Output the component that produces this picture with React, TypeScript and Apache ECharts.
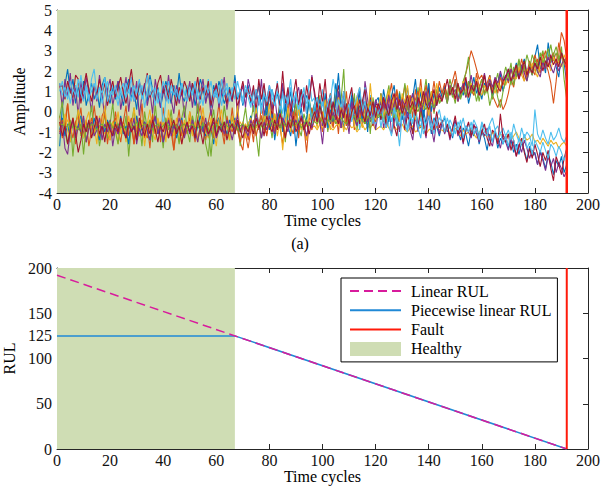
import React, { useEffect, useRef } from 'react';
import * as echarts from 'echarts';

// ---------- Panel (a): normalised sensor signals, one value per time cycle (t = 1..192) ----------
const blueA = [
  -1.7,0.2,1.3,2.1,0.9,1.6,0.4,1.2,0.7,1.5,0.3,0.9,1.4,0.6,1.1,0.2,1.3,1.7,0.8,0.4,1.2,0.6,1.5,0.9,
  0.3,1.1,1.6,0.7,1.0,0.1,1.4,0.8,1.3,0.5,1.8,1.1,0.6,1.2,0.2,0.9,1.5,1.0,0.4,1.3,0.7,1.9,0.8,0.5,
  1.2,0.6,1.4,0.3,0.9,1.6,1.1,0.5,1.0,0.2,1.3,0.7,1.5,1.0,0.4,0.8,1.2,0.5,1.8,0.6,1.1,0.3,0.9,1.3,
  0.4,1.0,0.6,1.3,0.2,0.8,-0.2,0.7,1.1,0.5,0.9,0.1,1.2,0.6,0.3,1.0,-0.3,0.7,0.4,1.1,0.2,0.8,0.5,-0.1,
  0.4,0.7,-0.1,0.5,-0.4,0.3,0.9,0.0,1.4,0.2,-0.3,0.6,0.1,-0.6,0.4,0.7,-0.2,0.3,-0.5,0.5,0.0,0.8,0.2,-0.3,
  0.1,-0.4,0.3,-0.8,-0.1,-0.5,0.2,-0.7,-0.2,0.5,-0.6,0.0,-0.3,-1.0,-0.1,-0.5,-0.8,0.1,-0.6,-0.2,-1.1,-0.3,-0.7,-1.2,
  -0.6,-0.3,-1.0,-0.7,-1.3,-0.5,-0.9,-1.4,-0.8,-1.1,-1.7,-0.9,-1.2,-0.7,-1.6,-1.0,-1.3,-1.9,-1.1,-1.5,-1.0,-1.8,-1.3,-1.6,
  -1.2,-1.8,-1.4,-2.0,-1.6,-2.1,-1.5,-1.9,-2.4,-1.7,-2.2,-2.0,-2.6,-1.9,-2.3,-2.8,-2.1,-2.5,-3.1,-2.4,-2.7,-2.2,-3.0,-2.6,
];
const orangeA = [
  -0.2,-1.3,-0.5,0.4,-1.1,-0.3,-1.6,-0.6,0.2,-1.2,-0.4,-1.7,-0.9,0.3,-0.8,-1.4,-0.2,0.1,-1.6,-0.6,-1.1,0.0,-0.9,-1.5,
  -0.5,0.3,-1.2,-0.7,-1.6,-0.2,-1.0,0.4,-1.3,-0.6,-1.8,-0.1,-1.1,-0.4,-1.5,0.2,-0.7,-1.3,-0.3,-1.9,-0.8,0.1,-1.2,-0.5,
  -1.1,0.0,-0.7,-1.5,-0.3,0.3,-0.9,-1.4,-0.5,0.1,-1.2,-0.6,0.4,-0.8,-1.6,-0.2,-1.0,0.2,-1.1,-0.5,-1.5,-1.9,-0.6,-1.4,
  -0.6,-1.5,0.0,-0.9,0.3,-0.5,-1.2,-0.2,0.5,-1.0,-0.1,-0.8,-1.6,-0.3,0.4,-0.7,-1.1,0.1,-1.3,-0.2,-0.9,-1.4,-0.4,0.2,
  -0.5,0.6,-0.3,-1.0,0.4,-0.4,0.9,-0.7,0.1,-1.1,0.5,-0.2,1.0,-0.6,0.3,-0.9,0.6,1.2,-0.3,0.1,-0.8,0.7,-0.2,0.4,
  -0.2,0.9,0.3,-0.6,0.7,1.4,0.2,1.0,-0.4,0.5,1.3,0.1,0.8,-0.3,1.1,0.4,1.6,0.2,0.9,-0.1,0.6,1.5,0.5,1.1,
  0.8,1.3,0.7,1.1,1.5,2.0,1.2,0.9,1.4,1.9,2.4,3.0,2.6,2.1,1.6,1.8,1.3,1.0,1.5,0.8,0.5,0.2,0.6,0.1,
  0.4,0.9,1.6,1.2,2.0,1.7,2.3,1.5,1.9,2.5,2.1,1.8,2.6,2.2,2.9,2.4,2.0,1.4,0.4,1.5,2.8,3.9,3.5,2.6,
];
const yellowA = [
  -0.6,-0.8,-0.7,-0.4,-0.8,-0.6,-0.9,-0.7,-1.0,-0.6,-0.8,-0.5,-0.7,-0.9,-0.6,-0.8,-0.7,-1.1,-0.6,-0.8,-0.5,-0.7,-1.6,-0.8,
  -0.6,-0.9,-0.7,-0.5,-0.8,-1.0,-0.6,-0.7,-0.9,-0.6,-0.4,-0.8,-0.7,-1.0,-0.6,-0.8,-0.5,-0.9,-0.7,-0.6,-0.8,-1.5,-0.7,-0.6,
  -0.8,-0.5,-0.7,-0.9,-0.6,-0.8,-0.7,-1.0,-0.6,-0.5,-0.8,-0.7,-0.9,-0.6,-0.8,-1.2,-0.7,-0.6,-0.9,-0.7,-0.5,-0.8,-0.6,-0.9,
  -0.7,-0.6,-0.8,-0.5,-0.7,-0.9,-0.6,-0.8,-0.7,-0.5,-0.8,-0.6,-0.9,-0.7,-0.6,-0.8,-0.5,-0.7,-0.9,-0.6,-0.8,-0.7,-0.6,-0.8,
  -0.7,-0.9,-0.6,-0.8,-0.7,-0.5,-0.8,-0.9,-0.7,-0.6,-0.8,-0.7,-0.9,-0.6,-0.8,-0.7,-1.0,-0.8,-0.6,-0.9,-0.7,-0.8,-0.6,-0.9,
  -0.8,-0.7,-0.9,-0.6,-0.8,-1.0,-0.7,-0.9,-0.8,-0.6,-0.9,-1.0,-0.8,-0.7,-1.0,-0.9,-0.7,-0.8,-1.1,-0.9,-0.8,-1.0,-0.7,-0.9,
  -0.9,-1.0,-0.8,-1.1,-0.9,-0.8,-1.0,-1.2,-0.9,-1.1,-1.0,-0.8,-1.1,-1.3,-1.0,-0.9,-1.2,-1.1,-1.3,-1.0,-1.2,-1.4,-1.1,-1.2,
  -1.3,-1.1,-1.4,-1.2,-1.0,-1.3,-1.5,-1.2,-1.4,-1.3,-1.1,-1.5,-1.4,-1.6,-1.3,-1.5,-1.7,-1.4,-1.6,-1.5,-1.8,-1.6,-1.5,-1.7,
];
const purpleA = [
  1.4,0.2,1.6,0.7,1.9,0.3,1.2,-0.2,1.5,0.6,1.7,0.9,0.0,1.3,0.5,1.8,0.8,-0.3,1.1,1.6,0.3,1.0,1.5,0.1,
  0.9,1.7,0.0,1.2,0.5,1.5,-0.2,0.8,1.4,0.3,1.0,-0.1,1.6,0.8,0.2,1.3,0.5,1.8,0.6,-0.1,1.3,0.4,1.1,-0.3,
  0.7,1.5,0.2,1.2,-0.1,0.9,1.6,0.4,1.1,-0.2,0.6,1.4,0.2,0.9,1.7,0.1,1.0,0.5,1.5,-0.3,0.8,1.3,0.2,1.6,
  1.0,0.0,1.1,0.3,1.6,-0.2,0.6,1.3,0.1,0.8,-0.4,0.5,1.4,0.0,1.0,0.3,-0.5,0.8,1.2,0.2,0.9,-0.1,0.5,1.8,
  0.8,-0.3,0.5,-0.7,0.3,-0.9,0.7,0.0,-0.5,1.0,-0.8,0.4,-0.2,-1.1,0.6,-0.4,0.3,1.1,-0.6,1.5,0.6,-0.5,0.4,-0.9,
  0.0,0.5,-0.8,-0.2,0.4,-1.1,-0.5,0.3,-1.0,-0.1,-0.7,0.6,-0.9,-1.4,-0.2,-1.0,0.2,-0.6,-1.3,0.0,-0.8,-1.5,-0.4,-1.1,
  -0.5,-1.1,-0.7,-1.4,-0.8,-0.4,-1.2,-0.9,-1.6,-0.7,-1.0,-1.3,-0.6,-1.1,-1.5,-0.9,-1.2,-0.8,-1.4,-1.7,-1.0,-1.3,-1.8,-1.1,
  -1.5,-1.9,-1.3,-1.7,-2.2,-1.6,-2.0,-1.4,-1.8,-2.3,-1.9,-2.1,-2.6,-2.0,-2.4,-2.9,-2.2,-2.7,-2.3,-3.0,-2.5,-2.8,-3.2,-2.9,
];
const greenA = [
  -0.3,0.5,-1.0,-1.6,-0.4,-2.2,-0.7,0.1,-1.2,-0.3,-1.5,-0.6,0.3,-1.1,-0.5,-1.7,-0.9,-0.1,-1.3,-0.6,0.4,-1.0,-1.6,-0.4,
  -1.1,-0.2,-2.2,-0.7,0.2,-1.3,-0.5,-1.7,0.0,-0.9,-0.4,-1.5,0.4,-1.0,-0.6,-1.8,-0.3,-0.9,0.1,-1.2,-0.7,-1.6,-0.3,0.3,
  -0.9,-1.5,-0.2,-0.8,0.4,-1.1,-0.5,-1.6,-2.2,-0.6,0.1,-1.2,-0.3,-0.9,0.3,-0.7,-1.4,-0.2,-1.1,-0.5,-1.7,-0.6,0.2,-0.9,
  -0.5,0.3,-1.1,-2.2,-0.2,-0.8,0.5,-0.4,-1.3,-0.1,-0.8,0.6,-0.5,-1.5,0.1,-1.0,-0.3,0.4,-0.8,-1.2,-0.1,-0.6,0.7,-0.4,
  0.4,-0.6,0.8,-0.3,0.2,-1.0,0.5,-0.5,1.1,-0.2,0.6,2.1,-0.7,0.3,-0.4,0.9,-0.9,0.1,0.6,-0.6,0.4,-1.1,0.7,-0.1,
  -0.2,0.9,-0.5,0.6,1.3,0.0,0.8,-0.6,1.0,0.2,1.4,0.5,-0.4,0.9,0.1,1.2,-0.3,0.7,1.6,0.2,1.0,-0.1,1.1,0.4,
  0.6,1.2,0.8,1.6,1.0,0.4,1.3,0.7,1.5,1.9,2.7,1.1,0.8,1.4,0.5,1.2,1.8,0.9,1.5,0.6,1.3,1.9,1.1,1.6,
  2.2,1.7,2.4,1.3,2.0,2.6,1.8,2.3,1.5,2.1,2.8,2.4,1.9,2.6,3.0,2.2,2.7,3.3,2.5,2.9,2.4,3.2,1.6,0.6,
];
const lightBlueA = [
  1.4,0.8,1.2,0.6,1.5,1.0,1.3,0.7,1.8,0.9,1.1,0.5,1.6,2.1,0.8,1.2,0.4,1.0,1.5,0.7,1.3,0.9,0.3,1.1,
  0.6,1.4,0.9,1.7,0.5,1.1,0.8,1.3,0.2,1.0,1.6,0.7,1.2,0.4,0.9,-0.8,0.6,1.5,0.9,1.2,0.5,1.0,1.4,0.8,
  1.3,0.6,1.0,1.5,0.8,0.4,1.2,0.9,1.6,0.5,1.1,0.7,1.3,0.3,1.0,1.4,0.8,1.2,0.6,1.5,0.9,0.4,1.1,0.7,
  0.2,1.2,-0.6,0.8,-0.1,1.3,0.5,-0.4,1.1,0.3,1.5,0.0,0.9,-0.3,0.7,1.6,0.2,1.0,-0.2,0.6,1.2,-0.1,1.6,0.5,
  0.7,-0.5,0.4,1.1,-0.2,-0.8,0.6,1.6,0.8,-0.1,-0.6,0.7,0.1,-0.7,1.0,-0.3,0.5,-0.9,0.4,1.2,-0.4,0.8,0.0,-0.6,
  0.3,-0.8,0.0,0.6,-0.7,-1.2,0.1,-0.5,-1.7,-0.2,0.4,-0.9,0.0,-0.6,0.5,-0.8,-1.3,-0.2,-0.9,0.4,-0.5,-1.1,-0.3,0.1,
  -0.6,-0.2,-0.9,-0.4,-0.7,-1.1,-0.5,-0.8,-0.3,-1.0,-0.6,-0.9,-0.4,-0.7,-1.2,-0.5,-0.8,-1.0,-0.6,-0.3,-0.9,-0.7,-1.1,-0.8,
  -1.2,-0.9,-1.4,-0.6,-1.1,-1.5,-0.8,-1.3,-1.0,-1.2,-1.7,0.1,-1.1,-1.4,-0.9,-1.3,-1.6,-1.0,-1.4,-1.2,-0.8,-1.3,-1.5,-1.2,
];
const darkRedA = [
  1.2,1.3,0.6,1.5,1.0,0.7,1.8,1.6,0.4,1.2,1.9,1.1,0.5,1.3,0.8,1.6,0.9,1.4,0.3,1.0,1.5,0.7,1.2,1.7,
  0.9,0.4,1.3,2.1,1.0,0.6,1.5,0.8,1.2,1.9,0.7,1.1,0.5,1.4,1.8,0.9,1.3,0.6,1.6,1.0,0.3,1.2,0.8,1.5,
  1.1,0.5,1.4,0.9,1.7,0.6,1.2,0.8,1.5,0.3,1.0,1.3,0.7,1.6,0.9,0.4,1.1,0.6,1.3,0.2,0.9,1.5,0.7,1.1,
  0.5,1.3,0.0,1.6,0.6,1.4,0.1,1.0,-0.3,0.7,1.4,0.3,2.0,0.4,1.2,-0.1,0.8,1.6,0.3,1.1,0.0,1.3,0.5,1.7,
  1.0,0.1,1.4,0.4,1.6,-0.1,0.8,-0.5,0.6,1.3,0.2,1.0,-0.5,0.6,1.2,-0.1,0.7,-0.6,0.5,1.1,-0.2,0.7,-0.7,0.4,
  0.3,-0.4,0.7,-0.8,0.0,0.6,-0.7,-1.2,-0.1,0.5,-0.9,-0.2,-0.5,-1.1,0.1,-0.8,0.3,-0.6,-1.2,1.4,-0.3,-0.9,0.0,-0.8,
  -0.4,-1.0,-0.6,-1.3,-0.8,-0.2,-1.1,-0.7,-1.5,-0.9,-0.5,-1.2,-0.7,-0.8,-1.4,-1.0,-0.6,-1.3,-1.7,-0.9,-1.1,-1.6,-0.1,-1.3,
  -1.5,-1.1,-1.9,-1.4,-2.2,-1.7,-1.3,-2.0,-2.5,-1.8,-2.3,-1.6,-2.1,-2.7,-2.0,-2.4,-1.9,-2.8,-3.4,-2.2,-2.6,-3.1,-2.3,-1.8,
];
const blueB = [
  -0.9,-0.3,-1.2,-0.6,-1.5,-0.4,-1.0,-0.7,-0.2,-1.3,-0.8,-0.5,-1.1,-0.3,-0.9,-1.4,-0.6,-1.0,-0.4,-0.8,-1.2,-0.5,-0.9,-0.2,
  -1.1,-0.7,-1.6,-0.4,-0.9,-0.2,-1.2,-0.8,-0.5,-1.0,-1.4,-0.6,-0.3,-1.1,-0.7,-1.5,-0.9,-0.4,-1.0,-0.6,-1.3,-0.8,-0.3,-1.1,
  -0.6,-1.0,-0.4,-1.3,-0.7,-0.2,-0.9,-1.2,-0.5,-0.8,-1.6,-0.6,-0.3,-1.0,-0.7,-1.1,-0.4,-0.8,-0.3,-0.6,-1.0,-0.5,-1.2,-0.7,
  -0.2,-1.1,0.2,-0.7,-1.3,-0.3,0.3,-0.9,-0.1,-1.4,-0.4,0.1,-1.0,0.4,-0.7,-1.2,-0.2,-1.7,-0.5,0.2,-0.9,-0.3,0.5,-0.7,
  0.3,-0.7,0.6,-0.4,0.9,-0.8,0.1,-0.5,0.5,1.9,0.2,-0.9,0.4,-0.4,0.8,-0.7,0.0,1.0,-0.5,0.3,-1.0,0.6,-0.2,0.5,
  0.7,-0.2,1.1,0.3,-0.5,0.8,1.3,0.0,0.9,-0.4,0.5,1.2,-0.1,0.7,1.6,0.2,1.0,-0.3,0.6,1.4,0.0,0.9,0.3,1.2,
  0.7,1.3,0.5,1.1,0.9,1.6,0.6,1.2,0.8,1.5,0.4,1.0,1.7,0.9,1.3,0.6,1.4,1.1,1.8,0.8,1.5,1.2,1.9,1.0,
  1.6,2.1,1.4,1.9,2.4,1.7,2.2,2.6,1.9,2.3,1.8,2.7,3.3,2.1,2.5,1.9,3.4,2.4,2.8,2.2,1.7,2.9,2.4,1.4,
];
const orangeB = [
  -1.0,-0.4,-0.9,0.4,-0.7,-1.3,-0.5,-0.2,-1.1,-0.6,-1.5,-0.8,-0.3,-1.0,-0.5,-1.2,-0.7,-0.1,-0.9,-1.4,-0.6,-0.3,-1.1,-0.8,
  -0.5,-1.2,-0.8,-0.3,-1.6,-0.7,-1.0,-0.4,-0.9,-1.3,-0.6,-0.2,-1.1,-0.8,-0.5,-1.4,-0.7,-0.3,-1.0,-1.9,-0.6,-0.9,-0.4,-1.2,
  -0.7,-0.3,-1.1,-0.6,-1.4,-0.8,-0.2,-1.0,-0.5,-0.9,-1.3,-0.4,-0.8,-0.6,-1.2,-0.3,-0.7,-1.0,-0.4,-0.9,-1.5,-0.6,-1.1,-1.8,
  -0.9,-0.4,-1.2,-0.6,-0.2,-0.8,-1.1,-0.5,-0.3,-1.0,-0.7,-0.1,-0.6,-1.2,-0.4,-0.8,0.0,-0.6,-1.0,-0.3,-0.7,-2.0,-0.5,-0.9,
  -0.3,0.2,-0.6,0.0,-0.4,0.5,-0.2,-0.8,0.1,-0.5,0.3,-0.1,-0.7,0.4,-0.3,0.0,0.6,-0.4,0.2,-0.6,0.1,0.5,-0.2,-0.5,
  0.3,-0.1,0.6,0.2,0.9,0.0,0.5,1.1,0.3,0.7,-0.2,0.4,0.8,0.1,0.6,1.0,0.2,0.5,1.3,0.4,0.9,0.0,0.6,1.5,
  0.9,1.4,0.6,1.1,0.8,1.6,0.5,1.0,1.3,0.7,1.5,1.1,0.8,1.9,1.2,1.6,0.9,1.4,1.8,1.1,1.5,0.9,1.7,1.3,
  1.8,1.4,2.1,1.6,2.3,1.9,2.6,2.0,1.7,2.4,2.1,2.8,2.3,1.9,2.6,3.0,2.2,2.5,2.9,2.3,3.4,2.7,2.4,2.1,
];
const yellowB = [
  -0.5,-1.2,-0.1,-0.9,-1.5,-0.3,-1.0,0.1,-0.6,-1.3,-0.4,0.0,-1.2,-0.7,-1.6,-0.2,-0.8,0.3,-1.0,-1.4,-0.5,-0.9,0.0,-1.1,
  -0.6,-1.5,-0.2,-1.0,0.2,-0.8,-1.2,-0.4,-1.7,-0.6,0.1,-1.0,-1.4,-0.3,-0.9,-0.5,-1.5,0.1,-0.7,-1.2,-0.3,-1.0,-1.6,-0.4,
  -0.9,0.0,-1.2,-0.5,-1.5,-0.6,0.2,-1.0,-1.3,-0.3,-0.9,-1.7,-0.4,0.1,-1.1,-0.6,-1.4,-0.2,-0.8,0.3,-1.0,-0.5,-1.3,-0.6,
  -0.3,-1.1,0.2,-0.7,-1.3,-0.2,-0.6,0.4,-0.9,-0.1,-1.2,-0.4,-1.9,-0.5,0.2,-1.0,-0.2,-0.8,0.3,-0.9,-0.4,-1.4,-0.1,-0.6,
  0.0,-0.8,0.4,-0.5,0.6,-0.4,-0.9,0.2,-0.6,0.7,-0.1,-1.0,0.4,-0.4,0.1,-0.7,0.8,-0.2,-0.8,0.3,-0.5,1.4,0.0,-0.4,
  0.2,0.8,-0.3,0.5,1.1,-0.2,0.8,0.3,-0.5,0.9,0.4,1.3,0.0,0.7,-0.4,0.5,1.2,0.1,0.8,-0.3,1.0,0.3,1.4,0.6,
  0.7,1.1,0.5,1.3,0.9,0.6,1.2,0.8,1.5,1.0,0.7,1.4,0.9,1.6,1.1,0.8,1.3,1.0,1.7,1.2,0.9,1.5,1.1,1.6,
  1.3,1.7,1.5,2.0,1.6,2.2,1.8,1.5,2.1,1.9,2.4,2.0,1.7,2.3,2.6,2.1,2.4,2.0,2.7,2.3,2.5,2.2,2.8,2.4,
];
const purpleB = [
  -1.1,-0.5,-1.8,-2.1,-0.9,-0.4,-1.3,-0.7,-1.0,-0.2,-1.5,-0.8,-0.5,-1.2,-0.9,-0.3,-1.4,-0.6,-1.0,-0.4,-1.7,-0.8,-1.1,-0.5,
  -0.9,-1.3,-0.6,-1.0,-0.3,-1.6,-0.8,-1.2,-0.5,-0.9,-1.4,-0.7,-0.2,-1.1,-0.6,-1.5,-0.9,-0.4,-1.2,-0.7,-1.0,-0.3,-0.8,-1.3,
  -0.6,-1.1,-0.4,-0.9,-1.5,-0.7,-1.0,-0.3,-1.2,-0.8,-0.5,-1.3,-0.9,-0.6,-1.1,-0.4,-0.8,-1.4,-0.7,-0.2,-1.0,-0.6,-0.9,-1.2,
  -0.4,-0.8,-0.1,-0.6,-1.3,-0.5,-0.9,-0.2,-0.7,-1.1,-0.4,-0.8,-0.3,-0.6,-1.0,0.0,-0.7,-0.4,-0.9,-0.2,-0.6,-1.2,-0.5,-0.8,
  -0.3,0.1,-0.5,-1.6,-0.2,0.4,-0.6,0.0,-0.4,0.3,-0.8,-0.1,0.2,-0.5,0.5,-0.3,-0.7,0.1,-0.2,0.4,-0.5,0.0,-0.3,0.6,
  0.2,-0.2,0.5,0.1,0.8,-0.1,0.4,0.7,0.0,0.6,0.3,-0.3,0.5,0.9,0.2,0.6,0.0,0.4,1.0,0.3,0.7,0.1,0.5,0.9,
  0.6,1.0,0.4,1.3,0.8,1.1,0.5,0.9,1.4,0.7,1.2,1.8,1.0,1.5,0.8,1.3,1.9,1.1,1.6,1.2,1.7,1.4,2.0,1.5,
  1.8,1.5,2.1,1.7,2.0,1.6,2.3,1.9,1.5,2.2,1.8,2.4,2.0,1.7,2.5,2.1,2.7,2.2,1.9,2.4,2.0,2.3,2.6,2.2,
];
const greenB = [
  -0.7,-0.6,-0.8,-0.7,-0.5,-0.8,-0.7,-0.9,-0.6,-2.1,-0.7,-0.8,-0.6,-0.7,-0.9,-0.7,-0.6,-0.8,-0.7,-0.5,-0.8,-0.7,-0.6,-0.8,
  -0.7,-0.9,-0.6,-0.8,-0.7,-0.5,-0.8,-0.7,-0.6,-0.8,-0.7,-0.9,-0.7,-0.6,-0.8,-0.7,-0.5,-0.7,-0.8,-0.6,-0.7,-0.9,-0.7,-0.6,
  -0.8,-0.7,-0.6,-0.8,-0.7,-0.9,-0.6,-0.7,-0.8,-2.2,-0.7,-0.6,-0.8,-0.7,-0.5,-0.7,-0.8,-0.6,-0.7,-0.9,-0.7,-0.6,-0.8,-0.7,
  -0.6,-0.8,-0.7,-0.5,-0.7,-0.8,-0.6,-0.7,-0.4,-0.7,-0.6,-0.8,-0.5,-0.7,-0.6,-0.4,-0.7,-0.6,-0.5,-0.8,-0.6,-0.4,-0.7,-0.5,
  -0.5,-0.6,-0.3,-0.5,-0.7,-0.4,-0.5,-0.2,-0.6,-0.4,-0.3,-0.5,-0.6,-0.3,-0.4,-0.2,-0.5,-0.3,-0.4,-0.6,-0.2,-0.4,-0.3,-0.1,
  -0.3,-0.1,-0.4,0.0,-0.2,0.1,-0.3,0.2,0.0,-0.2,0.3,0.1,-0.1,0.4,0.2,0.0,0.5,0.3,0.1,0.6,0.4,0.2,0.7,0.5,
  0.6,1.0,0.4,1.2,0.7,0.9,1.4,0.6,1.1,0.8,1.5,0.9,1.3,0.5,1.1,1.6,0.8,1.2,0.3,0.9,1.4,0.7,0.2,1.0,
  1.5,1.9,1.3,2.2,1.7,2.5,1.9,2.1,2.8,2.3,1.8,2.6,2.2,2.9,2.4,2.7,3.1,2.5,2.8,3.2,2.6,2.9,2.4,2.7,
];
const lightBlueB = [
  1.0,1.5,0.7,1.2,0.4,1.1,0.8,1.6,0.9,0.5,1.3,0.7,1.0,1.4,0.6,1.2,0.9,1.7,0.5,1.0,0.8,1.3,0.6,1.1,
  1.4,0.7,1.1,0.5,1.3,0.9,1.6,0.6,1.0,1.8,0.8,1.2,0.3,1.1,0.7,1.5,1.0,0.4,1.3,0.8,1.1,0.6,1.4,0.9,
  0.5,1.2,0.8,1.4,0.6,1.0,0.3,1.3,0.9,1.5,0.7,1.1,0.4,1.6,0.8,1.2,0.5,1.0,1.4,0.7,1.1,0.6,1.3,0.9,
  0.8,0.4,1.1,0.6,0.2,0.9,0.5,1.3,0.7,0.3,1.0,0.6,-0.1,0.8,0.4,1.2,0.5,0.9,0.1,0.7,1.1,0.4,0.6,-0.6,
  0.3,0.7,0.0,0.5,-0.3,0.4,0.8,0.1,-0.2,0.6,0.2,1.0,-0.1,0.4,-0.5,0.3,0.7,1.2,0.0,0.5,-0.2,0.3,-0.6,0.2,
  -0.1,0.3,-0.4,-0.8,0.0,-0.5,0.2,-0.3,-0.7,0.1,-0.6,-1.0,-0.2,-0.5,0.0,-0.8,-0.3,-1.1,-0.6,-0.2,-0.9,-0.4,-0.7,-0.3,
  -0.5,-1.0,-0.3,-0.8,-1.2,-0.6,-0.9,-0.4,-1.3,-0.7,-1.0,-0.5,-1.1,-0.8,-1.4,-0.6,-1.0,-1.2,-0.7,-1.5,-0.9,-1.3,-1.0,-1.6,
  -1.2,-1.7,-1.0,-1.4,-1.9,-1.3,-1.6,-1.1,-1.8,-1.5,-2.1,-1.4,-1.7,-2.0,-1.5,-1.9,-2.3,-1.6,-1.8,-2.2,-1.7,-2.0,-2.4,-1.9,
];
const darkRedB = [
  -0.5,-1.2,-0.7,-1.6,-0.9,-0.3,-1.1,-2.0,-1.4,-0.6,-1.0,-0.4,-1.3,-0.8,-0.2,-1.1,-0.7,-1.5,-0.5,-0.9,-1.2,-0.6,-1.0,-0.3,
  -0.9,-1.3,-0.5,-1.0,-0.7,-1.4,-0.3,-0.8,-1.2,-0.6,-1.1,-0.4,-0.9,-1.5,-0.7,-1.0,-0.5,-1.3,-0.8,-0.4,-1.1,-0.7,-1.6,-0.9,
  -0.5,-1.0,-0.7,-1.3,-0.4,-0.9,-1.6,-0.6,-1.1,-0.8,-0.3,-1.2,-0.7,-1.0,-0.5,-1.4,-0.8,-0.6,-1.1,-0.4,-0.9,-1.3,-0.7,-1.0,
  -0.6,-1.1,-0.3,-0.8,-0.5,-1.2,-0.2,-0.7,-1.0,-0.4,-0.9,-0.1,-0.6,-1.3,-0.5,-0.8,-0.2,-1.0,-0.6,-0.3,-0.9,-0.5,-1.1,-0.4,
  0.0,-0.5,0.3,-0.3,-0.8,0.2,-0.4,0.5,-0.2,-0.6,0.1,-0.3,0.4,-0.7,0.0,0.3,-0.4,0.6,-0.1,-0.5,0.2,-0.2,0.5,-0.3,
  0.4,0.0,0.7,0.2,-0.2,0.5,0.9,0.1,0.6,-0.1,0.3,0.8,0.2,0.5,-0.2,0.7,0.3,1.0,0.4,0.1,0.6,1.1,0.3,0.8,
  0.5,1.0,1.6,0.8,1.2,0.6,1.4,0.9,1.1,1.7,0.7,1.3,1.0,1.5,0.8,1.2,1.8,1.0,1.4,0.9,1.6,1.2,1.0,1.5,
  1.7,2.1,1.5,1.9,2.3,1.6,2.0,2.5,1.8,2.2,1.9,2.4,2.1,2.7,2.0,2.5,2.2,2.8,2.3,2.6,2.2,2.9,2.5,2.3,
];

const sensorSeries = [
  blueA, orangeA, yellowA, purpleA, greenA, lightBlueA, darkRedA,
  blueB, orangeB, yellowB, purpleB, greenB, lightBlueB, darkRedB,
];
const sensorColors = ['#0072BD', '#D95319', '#EDB120', '#7E2F8E', '#77AC30', '#4DBEEE', '#A2142F'];

// ---------- Shared events ----------
const healthyEnd = 67; // end of the healthy region (cycles)
const faultCycle = 192; // failure time (cycles)

// ---------- Panel (b): RUL targets ----------
const linearCycles = [0, 192];
const linearRUL = [192, 0];
const piecewiseCycles = [0, 67, 192];
const piecewiseRUL = [125, 125, 0];

// ---------- Axis ticks ----------
const xTicks = [0, 20, 40, 60, 80, 100, 120, 140, 160, 180, 200];
const ampTicks = [-4, -3, -2, -1, 0, 1, 2, 3, 4, 5];
const rulTicksLeft = [0, 50, 100, 125, 150, 200];
const rulTicksRight = [0, 50, 100, 150, 200];

const FONT = 'Liberation Serif';
const AXC = '#262626';
const GREEN = '#cfddb4';
const RED = '#ff1a0a';
const MAGENTA = '#d81b9c';
const PBLUE = '#2089d6';

function xAxisDef(gridIndex: number, position: 'top' | 'bottom', showLabel: boolean, name: string) {
  return {
    type: 'value',
    gridIndex,
    position,
    min: xTicks[0],
    max: xTicks[xTicks.length - 1],
    interval: 20,
    name,
    nameLocation: 'middle',
    nameGap: 19,
    nameTextStyle: { fontSize: 16, fontFamily: FONT, color: '#000' },
    axisLine: { show: true, onZero: false, lineStyle: { color: AXC, width: 1 } },
    axisTick: { show: true, inside: true, length: 5, lineStyle: { color: AXC, width: 1 } },
    axisLabel: { show: showLabel, fontSize: 16, fontFamily: FONT, color: '#111', margin: 3 },
    splitLine: { show: false },
  };
}

function yAxisDef(
  gridIndex: number,
  position: 'left' | 'right',
  showLabel: boolean,
  name: string,
  min: number,
  max: number,
  interval: number,
  custom?: number[],
  nameGap = 30,
) {
  const label: any = { show: showLabel, fontSize: 16, fontFamily: FONT, color: '#111', margin: 5 };
  const tick: any = { show: true, inside: true, length: 5, lineStyle: { color: AXC, width: 1 } };
  if (custom) {
    label.customValues = custom;
    tick.customValues = custom;
  }
  return {
    type: 'value',
    gridIndex,
    position,
    min,
    max,
    interval,
    name,
    nameLocation: 'middle',
    nameGap,
    nameTextStyle: { fontSize: 16, fontFamily: FONT, color: '#000' },
    axisLine: { show: true, onZero: false, lineStyle: { color: AXC, width: 1 } },
    axisTick: tick,
    axisLabel: label,
    splitLine: { show: false },
  };
}

export default function App() {
  const ref = useRef<HTMLDivElement>(null);

  useEffect(() => {
    if (!ref.current) return;
    const chart = echarts.init(ref.current, undefined, { renderer: 'svg' });

    const sensorLines = sensorSeries.map((arr, k) => ({
      type: 'line',
      name: 'Sensor ' + (k + 1),
      xAxisIndex: 0,
      yAxisIndex: 0,
      data: arr.map((v, i) => [i + 1, v]),
      symbol: 'none',
      silent: true,
      z: 3,
      lineStyle: { width: 1.1, color: sensorColors[k % 7] },
      itemStyle: { color: sensorColors[k % 7] },
    }));

    const hideSymbol = { opacity: 0 };

    const option: any = {
      animation: false,
      backgroundColor: '#fff',
      textStyle: { fontFamily: FONT },
      grid: [
        { left: 57, top: 10, width: 531, height: 183, containLabel: false, outerBoundsMode: 'none' },
        { left: 57, top: 268, width: 531, height: 181, containLabel: false, outerBoundsMode: 'none' },
      ],
      xAxis: [
        xAxisDef(0, 'bottom', true, 'Time cycles'),
        xAxisDef(0, 'top', false, ''),
        xAxisDef(1, 'bottom', true, 'Time cycles'),
        xAxisDef(1, 'top', false, ''),
      ],
      yAxis: [
        yAxisDef(0, 'left', true, 'Amplitude', ampTicks[0], ampTicks[ampTicks.length - 1], 1, undefined, 30),
        yAxisDef(0, 'right', false, '', ampTicks[0], ampTicks[ampTicks.length - 1], 1),
        yAxisDef(1, 'left', true, 'RUL', 0, 200, 25, rulTicksLeft, 32),
        yAxisDef(1, 'right', false, '', 0, 200, 25, rulTicksRight),
      ],
      legend: {
        data: [
          { name: 'Linear RUL', itemStyle: hideSymbol },
          { name: 'Piecewise linear RUL', itemStyle: hideSymbol },
          { name: 'Fault', itemStyle: hideSymbol },
          { name: 'Healthy', icon: 'rect' },
        ],
        orient: 'vertical',
        left: 341,
        top: 278,
        itemWidth: 51,
        itemHeight: 14,
        itemGap: 3.3,
        padding: [5, 6, 5, 8],
        borderColor: '#000',
        borderWidth: 1,
        borderRadius: 0,
        backgroundColor: '#fff',
        selectedMode: false,
        textStyle: { fontSize: 16, fontFamily: FONT, color: '#000', padding: [0, 0, 0, 5] },
      },
      graphic: [
        {
          type: 'text',
          x: 300,
          y: 243,
          style: {
            text: '(a)',
            fontSize: 16,
            fontFamily: FONT,
            fill: '#000',
            align: 'center',
            verticalAlign: 'middle',
          },
        },
      ],
      series: [
        {
          type: 'line',
          name: 'Healthy region (a)',
          xAxisIndex: 0,
          yAxisIndex: 0,
          data: [],
          z: 1,
          markArea: {
            silent: true,
            itemStyle: { color: GREEN, opacity: 1 },
            data: [[{ xAxis: 0 }, { xAxis: healthyEnd }]],
          },
        },
        ...sensorLines,
        {
          type: 'line',
          name: 'Fault (a)',
          xAxisIndex: 0,
          yAxisIndex: 0,
          data: [
            [faultCycle, ampTicks[0]],
            [faultCycle, ampTicks[ampTicks.length - 1]],
          ],
          symbol: 'none',
          silent: true,
          z: 5,
          lineStyle: { width: 2.5, color: RED },
        },
        {
          type: 'line',
          name: 'Healthy',
          xAxisIndex: 2,
          yAxisIndex: 2,
          data: [],
          z: 1,
          itemStyle: { color: GREEN },
          lineStyle: { color: GREEN },
          markArea: {
            silent: true,
            itemStyle: { color: GREEN, opacity: 1 },
            data: [[{ xAxis: 0 }, { xAxis: healthyEnd }]],
          },
        },
        {
          type: 'line',
          name: 'Piecewise linear RUL',
          xAxisIndex: 2,
          yAxisIndex: 2,
          data: piecewiseCycles.map((c, i) => [c, piecewiseRUL[i]]),
          symbol: 'none',
          silent: true,
          z: 3,
          itemStyle: { color: PBLUE },
          lineStyle: { width: 1.5, color: PBLUE },
        },
        {
          type: 'line',
          name: 'Linear RUL',
          xAxisIndex: 2,
          yAxisIndex: 2,
          data: linearCycles.map((c, i) => [c, linearRUL[i]]),
          symbol: 'none',
          silent: true,
          z: 4,
          itemStyle: { color: MAGENTA },
          lineStyle: { width: 1.5, color: MAGENTA, type: [9, 5] },
        },
        {
          type: 'line',
          name: 'Fault',
          xAxisIndex: 2,
          yAxisIndex: 2,
          data: [
            [faultCycle, 0],
            [faultCycle, 200],
          ],
          symbol: 'none',
          silent: true,
          z: 5,
          itemStyle: { color: RED },
          lineStyle: { width: 2, color: RED },
        },
      ],
    };

    chart.setOption(option);
    return () => chart.dispose();
  }, []);

  return (
    <div
      ref={ref}
      style={{ position: 'absolute', left: 0, top: 0, width: 615, height: 487, background: '#fff' }}
    />
  );
}
